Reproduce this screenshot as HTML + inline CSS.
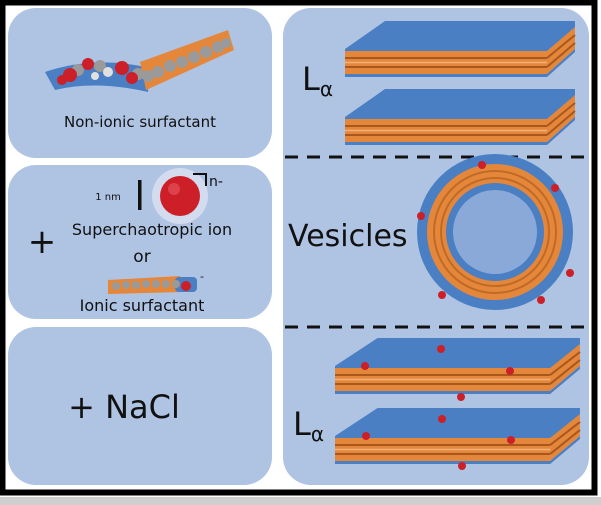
<!DOCTYPE html>
<html><head><style>
html,body{margin:0;padding:0;background:#fff;}
svg{display:block;}
text{font-family:"DejaVu Sans","Liberation Sans",sans-serif;fill:#111;}
</style></head><body>
<svg width="601" height="505" viewBox="0 0 601 505" xmlns="http://www.w3.org/2000/svg">
<defs>
<g id="slab">
  <polygon points="0,28 40,0 230,0 230,8 202,30 202,52 0,52" fill="#4a7fc3"/>
  <polygon points="0,30 202,30 202,53 0,53" fill="#e5873a"/>
  <polygon points="202,30 230,6 230,28 202,53" fill="#e5873a"/>
  <line x1="0" y1="37" x2="202" y2="37" stroke="#a8581f" stroke-width="2"/>
  <line x1="0" y1="46" x2="202" y2="46" stroke="#a8581f" stroke-width="2"/>
  <line x1="0" y1="41.5" x2="202" y2="41.5" stroke="#f4b07a" stroke-width="1.5"/>
  <line x1="202" y1="37" x2="230" y2="14" stroke="#a8581f" stroke-width="2"/>
  <line x1="202" y1="46" x2="230" y2="22" stroke="#a8581f" stroke-width="2"/>
  <polygon points="0,53 202,53 230,28 230,31 202,56 0,56" fill="#4a7fc3"/>
</g>
</defs>
<rect x="0" y="0" width="601" height="505" fill="#fff"/>
<rect x="2.5" y="2.5" width="592" height="490" fill="none" stroke="#000" stroke-width="6"/>
<rect x="0" y="497" width="601" height="8" fill="#cfcfcf"/>

<!-- left panels -->
<rect x="8" y="8" width="264" height="150" rx="28" fill="#afc3e3"/>
<rect x="8" y="165" width="264" height="154" rx="28" fill="#afc3e3"/>
<rect x="8" y="327" width="264" height="158" rx="28" fill="#afc3e3"/>
<!-- right panel -->
<rect x="283" y="8" width="306" height="477" rx="28" fill="#afc3e3"/>

<!-- panel 1 molecule -->
<path d="M45,72 Q95,55 150,68 L148,92 Q95,80 55,90 Z" fill="#4a7fc3"/>
<polygon points="140,62 228,30 234,50 146,90" fill="#e5873a"/>
<g fill="#9a9a9a">
<circle cx="158" cy="72" r="6"/><circle cx="170" cy="66" r="6"/><circle cx="182" cy="62" r="6"/><circle cx="194" cy="57" r="6"/><circle cx="206" cy="52" r="6"/><circle cx="218" cy="47" r="6"/><circle cx="226" cy="43" r="5"/>
<circle cx="78" cy="70" r="6"/><circle cx="100" cy="66" r="6"/><circle cx="138" cy="74" r="6"/><circle cx="148" cy="76" r="6"/>
</g>
<g fill="#cc1f28">
<circle cx="70" cy="75" r="7"/><circle cx="88" cy="64" r="6"/><circle cx="122" cy="68" r="7"/><circle cx="132" cy="78" r="6"/><circle cx="62" cy="80" r="5"/>
</g>
<g fill="#e0e0e0"><circle cx="108" cy="72" r="5"/><circle cx="95" cy="76" r="4"/></g>
<text x="140" y="127" font-size="15" text-anchor="middle">Non-ionic surfactant</text>

<!-- panel 2 -->
<text x="108" y="200" font-size="10" text-anchor="middle">1 nm</text>
<rect x="138" y="180" width="3.5" height="30" fill="#111"/>
<circle cx="180" cy="196" r="28" fill="#d3dcef"/>
<circle cx="180" cy="196" r="20" fill="#cc1f28"/>
<circle cx="174" cy="189" r="6" fill="#e4505a" opacity="0.7"/>
<polyline points="193,174 206,174 206,186" fill="none" stroke="#111" stroke-width="2"/>
<text x="209" y="186" font-size="14">n-</text>
<text x="152" y="235" font-size="16" text-anchor="middle">Superchaotropic ion</text>
<text x="142" y="262" font-size="17" text-anchor="middle">or</text>
<text x="42" y="253" font-size="34" text-anchor="middle">+</text>
<polygon points="108,280 180,276 182,292 108,294" fill="#e5873a"/>
<rect x="175" y="277" width="22" height="15" rx="4" fill="#4a7fc3"/>
<g fill="#9a9a9a"><circle cx="116" cy="286" r="4"/><circle cx="126" cy="285" r="4"/><circle cx="136" cy="285" r="4"/><circle cx="146" cy="284" r="4"/><circle cx="156" cy="284" r="4"/><circle cx="166" cy="284" r="4"/><circle cx="176" cy="284" r="4"/></g>
<circle cx="186" cy="286" r="5" fill="#cc1f28"/>
<text x="200" y="280" font-size="11">-</text>
<text x="142" y="311" font-size="16" text-anchor="middle">Ionic surfactant</text>

<!-- panel 3 -->
<text x="124" y="418" font-size="32" text-anchor="middle">+ NaCl</text>

<!-- right: top La -->
<text x="302" y="90" font-size="32">L<tspan font-size="20" dy="6">α</tspan></text>
<use href="#slab" transform="translate(345,21)"/>
<use href="#slab" transform="translate(345,89)"/>

<line x1="285" y1="157" x2="590" y2="157" stroke="#111" stroke-width="3" stroke-dasharray="13,9"/>

<!-- vesicle -->
<circle cx="495" cy="232" r="78" fill="#4a7fc3"/>
<circle cx="495" cy="232" r="68" fill="#e5873a"/>
<circle cx="495" cy="232" r="61" fill="none" stroke="#c06a28" stroke-width="2"/>
<circle cx="495" cy="232" r="54" fill="none" stroke="#c06a28" stroke-width="2"/>
<circle cx="495" cy="232" r="49" fill="#4a7fc3"/>
<circle cx="495" cy="232" r="42" fill="#8aa8d8"/>
<g fill="#cc1f28">
<circle cx="482" cy="165" r="4"/><circle cx="555" cy="188" r="4"/><circle cx="421" cy="216" r="4"/><circle cx="570" cy="273" r="4"/><circle cx="442" cy="295" r="4"/><circle cx="541" cy="300" r="4"/>
</g>
<text x="288" y="246" font-size="30">Vesicles</text>

<line x1="285" y1="327" x2="590" y2="327" stroke="#111" stroke-width="3" stroke-dasharray="13,9"/>

<!-- bottom La -->
<use href="#slab" transform="translate(335,338) scale(1.065,1)"/>
<use href="#slab" transform="translate(335,408) scale(1.065,1)"/>
<g fill="#cc1f28">
<circle cx="441" cy="349" r="4"/><circle cx="365" cy="366" r="4"/><circle cx="510" cy="371" r="4"/><circle cx="461" cy="397" r="4"/>
<circle cx="442" cy="419" r="4"/><circle cx="366" cy="436" r="4"/><circle cx="511" cy="440" r="4"/><circle cx="462" cy="466" r="4"/>
</g>
<text x="293" y="435" font-size="32">L<tspan font-size="20" dy="6">α</tspan></text>
</svg>
</body></html>
